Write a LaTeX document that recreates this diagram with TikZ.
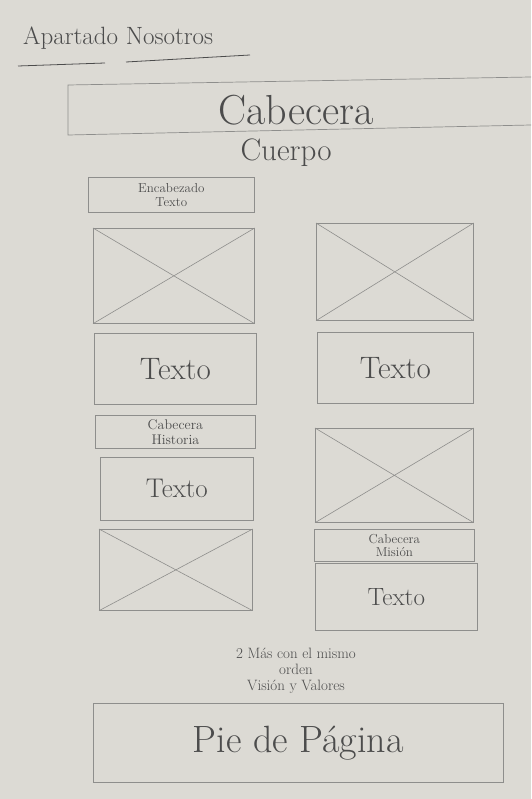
\documentclass[tikz,border=0pt]{standalone}
\usepackage{fontspec}
\usetikzlibrary{positioning}

\definecolor{paper}{HTML}{DCDAD4}
\definecolor{pencil}{HTML}{8E8E8C}
\definecolor{ink}{HTML}{4C4C4C}

\tikzset{
  box/.style={draw=pencil, line width=0.7pt, inner sep=0pt, anchor=north west},
  label/.style={text=ink, align=center, inner sep=1pt},
}
\newcommand{\fs}[1]{\fontsize{#1}{1.05\dimexpr#1pt\relax}\selectfont}

\begin{document}
\begin{tikzpicture}[x=1pt, y=-1pt]
  % hoja
  \fill[paper] (0,0) rectangle (531,799);
  \useasboundingbox (0,0) rectangle (531,799);

  % titulo
  \node[label, anchor=west, font=\fs{25}] (titulo) at (22,38) {Apartado Nosotros};
  \draw[ink, line width=0.8pt] (18,66) -- (105,63);
  \draw[ink, line width=0.8pt] (126,62) -- (250,55);

  % cabecera
  \draw[pencil, line width=0.7pt] (531,77) -- (68,85) -- (68,135) -- (531,125);
  \node[label, font=\fs{42}] (cabecera) at (296,110) {Cabecera};
  \node[label, font=\fs{31}] (cuerpo) at (286,153) {Cuerpo};

  % columna izquierda
  \node[box, minimum width=166pt, minimum height=35pt] (encab) at (88,177) {};
  \node[label, font=\fs{13}] at (encab.center) {Encabezado\\Texto};

  \node[box, minimum width=162pt, minimum height=71pt] (textoA) at (94,333) {};
  \node[label, font=\fs{31}] at (textoA.center) {Texto};

  \node[box, minimum width=160pt, minimum height=33pt] (historia) at (95,415) {};
  \node[label, font=\fs{14}] at (historia.center) {Cabecera\\Historia};

  \node[box, minimum width=153pt, minimum height=63pt] (textoB) at (100,457) {};
  \node[label, font=\fs{27}] at (textoB.center) {Texto};

  % columna derecha
  \node[box, minimum width=156pt, minimum height=71pt] (textoC) at (317,332) {};
  \node[label, font=\fs{31}] at (textoC.center) {Texto};

  \node[box, minimum width=160pt, minimum height=32pt] (mision) at (314,529) {};
  \node[label, font=\fs{13}] at (mision.center) {Cabecera\\Misión};

  \node[box, minimum width=162pt, minimum height=67pt] (textoD) at (315,563) {};
  \node[label, font=\fs{25}] at (textoD.center) {Texto};

  % imagenes
  \foreach \n/\x/\y/\w/\h in {imgA/93/228/161/95, imgB/316/223/157/97,
                              imgC/99/529/153/81, imgD/315/428/158/94} {
    \node[box, minimum width=\w pt, minimum height=\h pt] (\n) at (\x,\y) {};
    \draw[pencil, line width=0.6pt] (\n.north west) -- (\n.south east)
                                    (\n.north east) -- (\n.south west);
  }

  % nota
  \node[label, font=\fs{15}] (nota) at (296,671) {2 Más con el mismo\\orden\\Visión y Valores};

  % pie de pagina
  \node[box, minimum width=410pt, minimum height=79pt] (pie) at (93,703) {};
  \node[label, font=\fs{38}] at (pie.center) {Pie de Página};
\end{tikzpicture}
\end{document}
